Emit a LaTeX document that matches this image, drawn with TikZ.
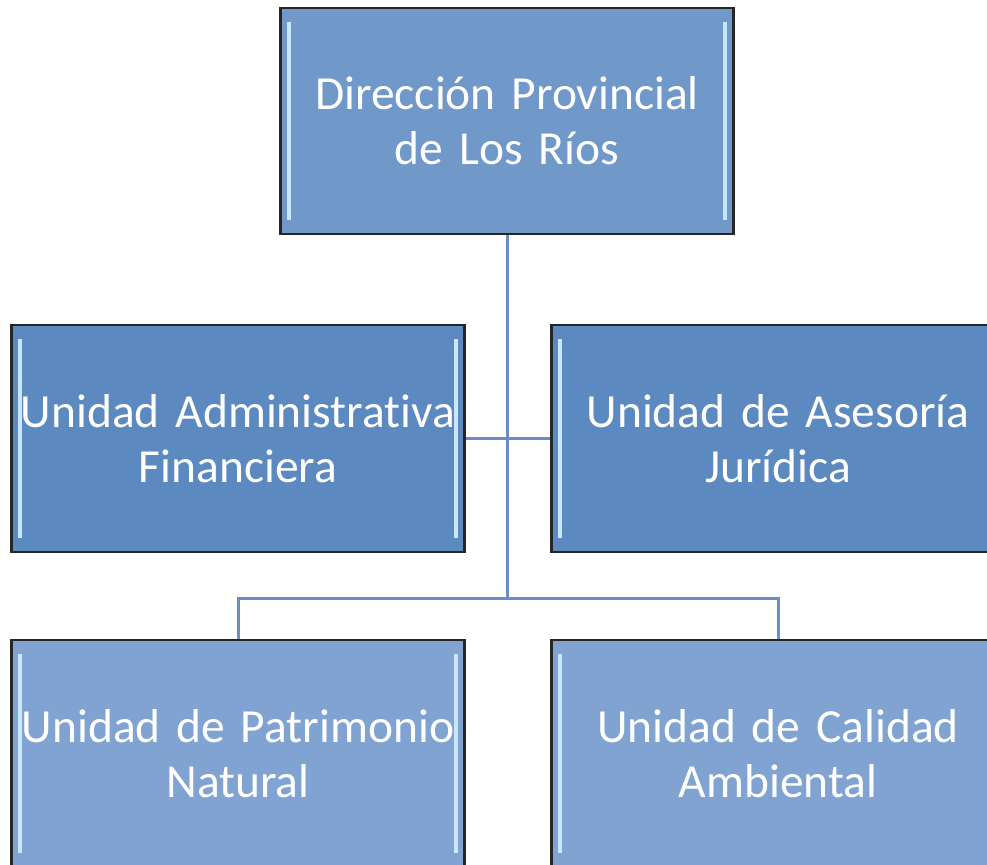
\documentclass[tikz,border=0pt]{standalone}
\usepackage{fontspec}
\setmainfont{Carlito}[Ligatures=NoCommon, WordSpace=0.75]
\definecolor{topblue}{RGB}{112,152,200}
\definecolor{midblue}{RGB}{91,137,192}
\definecolor{lowblue}{RGB}{128,163,210}
\definecolor{linkblue}{RGB}{108,140,196}
\definecolor{glint}{RGB}{200,230,252}
\tikzset{
  unit/.style={draw=black!85, line width=2.5pt, minimum width=450pt, minimum height=226pt,
    text width=446pt, align=center, text=white, font=\fontsize{47.5}{55}\selectfont,
    path picture={
      \draw[glint, line width=4pt]
        ([xshift=8pt,yshift=-14pt]path picture bounding box.north west) --
        ([xshift=8pt,yshift=14pt]path picture bounding box.south west);
      \draw[glint, line width=4pt]
        ([xshift=-8pt,yshift=-14pt]path picture bounding box.north east) --
        ([xshift=-8pt,yshift=14pt]path picture bounding box.south east);
    }},
  link/.style={draw=linkblue, line width=3pt}
}
\begin{document}
\begin{tikzpicture}[x=1pt,y=1pt]
\useasboundingbox (0,0) rectangle (987,-864);
\clip (0,0) rectangle (987,-864);
\coordinate (split) at (507,-598);
% boxes
\node[unit, fill=topblue] (dir) at (507,-121) {Dirección Provincial\\de Los Ríos};
\node[unit, fill=midblue, minimum height=227pt] (adm) at (238,-438.5) {Unidad Administrativa\\Financiera};
\node[unit, fill=midblue, minimum height=227pt] (jur) at (778,-438.5) {Unidad de Asesoría\\Jurídica};
\node[unit, fill=lowblue, minimum height=227pt] (pat) at (238,-753.5) {Unidad de Patrimonio\\Natural};
\node[unit, fill=lowblue, minimum height=227pt] (cal) at (778,-753.5) {Unidad de Calidad\\Ambiental};
% connectors
\draw[link] (dir.south) -- (split);
\draw[link] (adm.east) -- (jur.west);
\draw[link] (pat.north) |- (split) -| (cal.north);
\end{tikzpicture}
\end{document}
